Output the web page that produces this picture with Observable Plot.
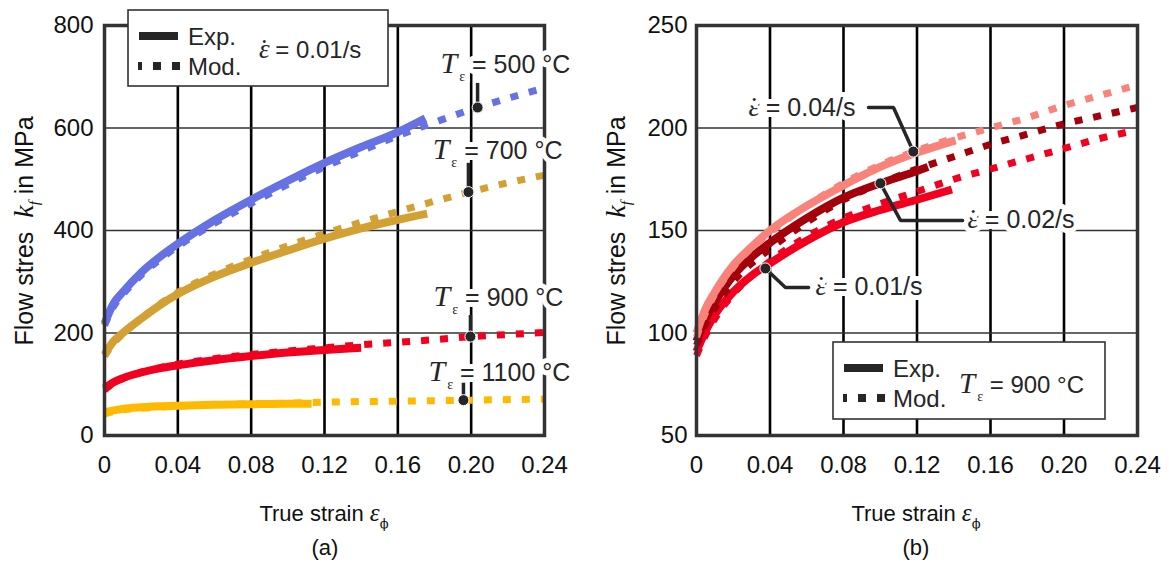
<!DOCTYPE html>
<html><head><meta charset="utf-8">
<script src="https://cdn.jsdelivr.net/npm/d3@7"></script>
<script src="https://cdn.jsdelivr.net/npm/@observablehq/plot@0.6"></script>
<style>
body{margin:0;background:#fff}
#wrap{position:relative;width:1169px;height:568px;overflow:hidden;background:#fff}
#wrap svg{position:absolute;top:0}
text{white-space:pre}
</style>
</head><body><div id="wrap"></div>
<script>
// ---------- data ----------
const xTicks = [0, 0.04, 0.08, 0.12, 0.16, 0.20, 0.24];
const xTickLabels = ["0", "0.04", "0.08", "0.12", "0.16", "0.20", "0.24"];
const xGrid = [0.04, 0.08, 0.12, 0.16, 0.20];
const yTicksA = [0, 200, 400, 600, 800];
const yTickLabelsA = ["0", "200", "400", "600", "800"];
const yGridA = [200, 400, 600];
const yTicksB = [50, 100, 150, 200, 250];
const yTickLabelsB = ["50", "100", "150", "200", "250"];
const yGridB = [100, 150, 200];

// panel (a): strain rate 0.01/s, temperatures
const exp500 = [[0,218],[0.005,258],[0.01,280],[0.02,318],[0.03,348],[0.04,374],[0.06,420],[0.08,460],[0.10,497],[0.12,532],[0.14,563],[0.16,592],[0.175,619]];
const mod500 = [[0,215],[0.005,252],[0.01,275],[0.02,313],[0.03,343],[0.04,369],[0.06,414],[0.08,453],[0.10,490],[0.12,524],[0.14,555],[0.16,585],[0.18,611],[0.20,636],[0.22,658],[0.24,678]];
const exp700 = [[0,158],[0.005,184],[0.01,200],[0.02,228],[0.03,254],[0.04,276],[0.06,310],[0.08,337],[0.10,361],[0.12,384],[0.14,404],[0.16,421],[0.176,433]];
const mod700 = [[0,155],[0.005,180],[0.01,198],[0.02,228],[0.03,256],[0.04,279],[0.06,315],[0.08,344],[0.10,370],[0.12,394],[0.14,416],[0.16,437],[0.18,457],[0.20,476],[0.22,493],[0.24,508]];
const exp900 = [[0,92],[0.005,104],[0.01,112],[0.02,123],[0.03,131],[0.04,137],[0.06,147],[0.08,155],[0.10,162],[0.12,167],[0.14,171]];
const mod900 = [[0,89],[0.005,102],[0.01,111],[0.02,123],[0.03,132],[0.04,139],[0.06,150],[0.08,158],[0.10,165],[0.12,171],[0.14,177],[0.16,182],[0.18,187],[0.20,193],[0.22,197],[0.24,201]];
const exp1100 = [[0,45],[0.005,49],[0.01,52],[0.02,55],[0.04,58],[0.06,60],[0.08,61],[0.10,62],[0.113,62]];
const mod1100 = [[0,42],[0.005,47],[0.01,50],[0.02,53],[0.04,57],[0.06,60],[0.08,62],[0.10,63],[0.12,65],[0.16,67],[0.20,69],[0.24,71]];

// panel (b): 900 °C, strain rates
const exp004 = [[0,100],[0.005,112],[0.01,120],[0.02,133],[0.03,142],[0.04,150],[0.06,162],[0.08,172],[0.10,181],[0.12,188],[0.141,194]];
const mod004 = [[0,98],[0.005,110],[0.01,119],[0.02,132],[0.04,149],[0.06,162],[0.08,173],[0.10,182],[0.12,189],[0.14,195],[0.16,200],[0.18,205],[0.20,211],[0.22,216],[0.24,221]];
const exp002 = [[0,96],[0.005,107],[0.01,115],[0.02,128],[0.03,137],[0.04,144],[0.06,156],[0.08,166],[0.10,173],[0.12,179],[0.126,181]];
const mod002 = [[0,94],[0.005,104],[0.01,112],[0.02,125],[0.04,141],[0.06,154],[0.08,165],[0.10,173],[0.12,180],[0.14,186],[0.16,192],[0.18,197],[0.20,202],[0.22,206],[0.24,210]];
const exp001 = [[0,91],[0.005,101],[0.01,109],[0.02,120],[0.03,128],[0.04,134],[0.06,145],[0.08,154],[0.10,160],[0.12,165],[0.139,170]];
const mod001 = [[0,89],[0.005,99],[0.01,107],[0.02,119],[0.04,135],[0.06,147],[0.08,156],[0.10,163],[0.12,169],[0.14,175],[0.16,180],[0.18,185],[0.20,190],[0.22,195],[0.24,199]];

// annotations (data coordinates)
const tempLabels = ["500 °C", "700 °C", "900 °C", "1100 °C"];
const tempLabelX = [0.1833, 0.179, 0.1795, 0.1767];
const tempLabelY = [722, 556, 269, 121];
const tempDotX = [0.2035, 0.1985, 0.1996, 0.1958];
const tempDotY = [640, 475, 193, 69];
const tempLeaderTop = [688, 532, 235, 103];

const rateLabels = ["0.04/s", "0.02/s", "0.01/s"];
const rateLabelX = [0.0283, 0.1475, 0.0648];
const rateLabelY = [210, 154.9, 122.2];
const rateDotX = [0.118, 0.1001, 0.0375];
const rateDotY = [188.5, 173, 131.5];
const rateLeaderX = [[0.0936, 0.1072, 0.118], [0.1001, 0.111, 0.1448], [0.0375, 0.0484, 0.061]];
const rateLeaderY = [[210, 210, 188.5], [173, 154.9, 154.9], [131.5, 122.2, 122.2]];

// ---------- styles ----------
const SANS = "'Liberation Sans', Arial, Helvetica, sans-serif";
const SERIF = "'Liberation Serif', 'Times New Roman', serif";
const INK = "#262626";
const col = {T500: "#6671E3", T700: "#D3A033", T900: "#F2001F", T1100: "#FFBA00", r004: "#F9837B", r002: "#A3000C", r001: "#F2001F"};

const rows = (arr) => arr.map(([x, y]) => ({x, y}));
function seriesMarks(expArr, modArr, color) {
  return [
    Plot.line(rows(modArr), {x: "x", y: "y", stroke: color, strokeWidth: 7, strokeDasharray: "8,11", strokeLinecap: "butt", curve: "monotone-x"}),
    Plot.line(rows(expArr), {x: "x", y: "y", stroke: color, strokeWidth: 8, strokeLinecap: "butt", curve: "monotone-x"})
  ];
}

function panel({width, marginRight, yDomain, yTicks, yTickLabels, yGrid, yPad, curves, annot}) {
  return Plot.plot({
    width, height: 568,
    marginLeft: 104, marginRight, marginTop: 25, marginBottom: 133,
    style: {fontFamily: SANS, fontSize: "24px", color: "#111", background: "transparent"},
    x: {domain: [0, 0.24], label: null},
    y: {domain: yDomain, label: null},
    marks: [
      Plot.gridX(xGrid, {stroke: "#000", strokeOpacity: 1, strokeWidth: 2.6}),
      Plot.gridY(yGrid, {stroke: "#333", strokeOpacity: 1, strokeWidth: 1.6}),
      Plot.axisX({ticks: xTicks, tickSize: 0, tickPadding: 20, fontSize: 24, tickFormat: (d) => xTickLabels[xTicks.indexOf(d)]}),
      Plot.axisY({ticks: yTicks, tickSize: 0, tickPadding: yPad, fontSize: 24, tickFormat: (d) => yTickLabels[yTicks.indexOf(d)]}),
      ...curves,
      Plot.frame({stroke: "#333", strokeWidth: 3.5}),
      ...annot
    ]
  });
}

// ---------- panel (a) ----------
const tempAnn = tempLabels.map((label, i) => ({label, tx: tempLabelX[i], ty: tempLabelY[i], dx: tempDotX[i], dy: tempDotY[i], top: tempLeaderTop[i]}));
const svgA = panel({
  width: 585, marginRight: 41, yDomain: [0, 800], yTicks: yTicksA, yTickLabels: yTickLabelsA, yGrid: yGridA, yPad: 11,
  curves: [
    ...seriesMarks(exp1100, mod1100, col.T1100),
    ...seriesMarks(exp900, mod900, col.T900),
    ...seriesMarks(exp700, mod700, col.T700),
    ...seriesMarks(exp500, mod500, col.T500)
  ],
  annot: [
    Plot.text(tempAnn, {x: "tx", y: "ty", text: "label", textAnchor: "start", fontSize: 25, fill: INK, stroke: "white", strokeWidth: 10, paintOrder: "stroke", className: "tlab"}),
    Plot.link(tempAnn, {x1: "dx", y1: "dy", x2: "dx", y2: "top", stroke: INK, strokeWidth: 3.5}),
    Plot.dot(tempAnn, {x: "dx", y: "dy", r: 5.5, fill: INK, stroke: "white", strokeWidth: 1})
  ]
});

// ---------- panel (b) ----------
const rateAnn = rateLabels.map((label, i) => ({label, tx: rateLabelX[i], ty: rateLabelY[i], dx: rateDotX[i], dy: rateDotY[i]}));
const rateLeaders = rateLeaderX.flatMap((xs, i) => xs.map((x, j) => ({id: i, x, y: rateLeaderY[i][j]})));
const svgB = panel({
  width: 577, marginRight: 32, yDomain: [50, 250], yTicks: yTicksB, yTickLabels: yTickLabelsB, yGrid: yGridB, yPad: 9,
  curves: [
    ...seriesMarks(exp001, mod001, col.r001),
    ...seriesMarks(exp002, mod002, col.r002),
    ...seriesMarks(exp004, mod004, col.r004)
  ],
  annot: [
    Plot.text(rateAnn, {x: "tx", y: "ty", text: "label", textAnchor: "start", fontSize: 25, fill: INK, stroke: "white", strokeWidth: 10, paintOrder: "stroke", className: "rlab"}),
    Plot.line(rateLeaders, {x: "x", y: "y", z: "id", stroke: INK, strokeWidth: 3.5, strokeLinejoin: "miter"}),
    Plot.dot(rateAnn, {x: "dx", y: "dy", r: 5.5, fill: INK, stroke: "white", strokeWidth: 1})
  ]
});

const wrap = document.getElementById("wrap");
svgA.style.left = "0px";
svgB.style.left = "592px";
wrap.appendChild(svgA);
wrap.appendChild(svgB);

// ---------- rich text helpers ----------
function tsp(sel, txt, attrs) {
  const t = sel.append("tspan").text(txt);
  for (const k in attrs) t.attr(k, attrs[k]);
  return t;
}
function tempRich(el, rest, fs) {
  const s = d3.select(el); s.text("");
  tsp(s, "T", {"font-family": SERIF, "font-style": "italic", "font-size": fs + 5});
  tsp(s, "ε", {"font-family": SERIF, "font-size": 14, dy: 8, dx: 2});
  tsp(s, " = " + rest, {"font-family": SANS, "font-size": fs, dy: -8});
}
function rateRich(el, rest, fs) {
  const s = d3.select(el); s.text("");
  tsp(s, "ε", {"font-family": SERIF, "font-style": "italic", "font-size": fs + 3});
  tsp(s, "˙", {"font-family": SERIF, "font-size": fs + 3, dx: -10});
  tsp(s, " = " + rest, {"font-family": SANS, "font-size": fs, dx: 0});
}
svgA.querySelectorAll("g.tlab text").forEach(el => tempRich(el, el.textContent, 25));
svgB.querySelectorAll("g.rlab text").forEach(el => rateRich(el, el.textContent, 25));

// ---------- axis titles, tags, legends ----------
function titles(svgEl, cx) {
  const s = d3.select(svgEl);
  const xt = s.append("text").attr("x", cx).attr("y", 521).attr("text-anchor", "middle")
    .attr("font-family", SANS).attr("font-size", 22).attr("fill", "#111");
  tsp(xt, "True strain ", {});
  tsp(xt, "ε", {"font-family": SERIF, "font-style": "italic", "font-size": 25});
  tsp(xt, "ϕ", {"font-family": "'DejaVu Serif', serif", "font-size": 13, dy: 7, fill: "#111"});
  const yt = s.append("text").attr("transform", "translate(33,231) rotate(-90)").attr("text-anchor", "middle")
    .attr("font-family", SANS).attr("font-size", 25).attr("fill", "#111");
  tsp(yt, "Flow stres  ", {});
  tsp(yt, "k", {"font-family": SERIF, "font-style": "italic", "font-size": 28});
  tsp(yt, "f", {"font-family": SERIF, "font-style": "italic", "font-size": 15, dy: 6});
  tsp(yt, " in MPa", {dy: -6});
}
titles(svgA, 324);
titles(svgB, 916 - 592);

function tag(svgEl, cx, txt) {
  d3.select(svgEl).append("text").attr("x", cx).attr("y", 555).attr("text-anchor", "middle")
    .attr("font-family", SANS).attr("font-size", 22).attr("fill", "#111").text(txt);
}
tag(svgA, 325, "(a)");
tag(svgB, 916 - 592, "(b)");

function legend(svgEl, ox, x, y, w, h, extra) {
  const g = d3.select(svgEl).append("g").attr("transform", `translate(${x - ox},${y})`).attr("text-anchor", "start");
  g.append("rect").attr("width", w).attr("height", h).attr("fill", "white").attr("stroke", "#333").attr("stroke-width", 1.6);
  g.append("line").attr("x1", 11).attr("x2", 50).attr("y1", 26).attr("y2", 26).attr("stroke", INK).attr("stroke-width", 8);
  g.append("line").attr("x1", 10).attr("x2", 52).attr("y1", 56).attr("y2", 56).attr("stroke", INK).attr("stroke-width", 8)
    .attr("stroke-dasharray", "8,11").attr("stroke-dashoffset", 4);
  g.append("text").attr("x", 60).attr("y", 35).attr("text-anchor", "start").attr("font-family", SANS).attr("font-size", 24).attr("fill", INK).text("Exp.");
  g.append("text").attr("x", 60).attr("y", 65).attr("text-anchor", "start").attr("font-family", SANS).attr("font-size", 24).attr("fill", INK).text("Mod.");
  const t = g.append("text").attr("x", extra.x).attr("y", extra.y).attr("text-anchor", "start").attr("font-family", SANS).attr("font-size", 24).attr("fill", INK);
  extra.fn(t.node(), extra.text, 24);
}
legend(svgA, 0, 128, 10, 260, 76, {x: 131, y: 48, text: "0.01/s", fn: rateRich});
legend(svgB, 592, 833, 342, 272, 77, {x: 126, y: 51, text: "900 °C", fn: tempRich});
</script></body></html>
